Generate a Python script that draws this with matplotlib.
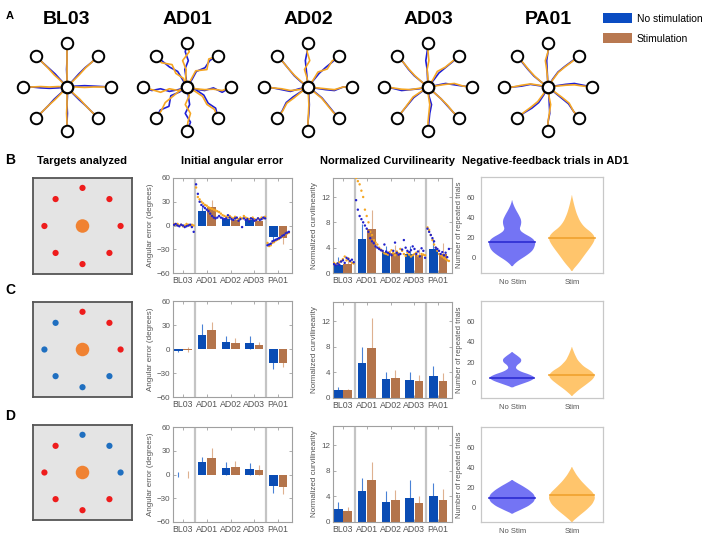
import numpy as np
import matplotlib
matplotlib.use("Agg")
import matplotlib.pyplot as plt
from matplotlib.patches import Patch

plt.rcParams['font.family'] = ['Liberation Sans', 'DejaVu Sans']

# ---------------- data ----------------
subjects = ['BL03', 'AD01', 'AD02', 'AD03', 'PA01']
target_angles = [0, 45, 90, 135, 180, 225, 270, 315]
traj_t = [0.0, 0.2, 0.4, 0.6, 0.8, 1.0]

traj_blue = {
    'BL03': [[0.02, 0.03, 0.02, 0.01], [0.01, 0.02, 0.02, 0.0], [0.0, 0.01, 0.0, 0.0], [-0.01, -0.02, -0.01, 0.0],
             [0.02, 0.03, 0.02, 0.0], [0.0, -0.01, 0.0, 0.0], [0.01, 0.0, 0.01, 0.0], [-0.01, -0.01, 0.0, 0.0]],
    'AD01': [[-0.05, -0.08, -0.02, -0.12], [0.04, 0.1, 0.02, 0.06], [0.02, 0.05, -0.03, 0.04], [-0.05, -0.1, -0.04, -0.02],
             [0.06, 0.1, 0.04, 0.08], [-0.04, -0.12, 0.02, -0.06], [0.03, 0.06, -0.04, 0.08], [0.1, 0.14, 0.08, 0.12]],
    'AD02': [[-0.03, -0.06, -0.08, 0.0], [0.02, 0.04, 0.03, 0.01], [0.02, 0.04, 0.06, 0.02], [0.03, 0.04, 0.02, 0.0],
             [0.04, 0.1, 0.06, 0.02], [-0.04, -0.08, -0.1, -0.03], [0.02, 0.03, 0.02, 0.0], [0.03, 0.05, 0.03, 0.01]],
    'AD03': [[0.04, 0.08, 0.05, 0.02], [0.02, 0.05, 0.03, 0.01], [0.01, 0.02, 0.05, 0.02], [0.02, 0.04, 0.03, 0.0],
             [0.04, 0.06, 0.08, 0.03], [-0.03, -0.06, -0.04, -0.02], [0.02, 0.08, 0.04, 0.02], [0.01, 0.02, 0.01, 0.0]],
    'PA01': [[0.03, 0.06, 0.08, 0.04], [0.05, 0.08, 0.06, 0.03], [0.01, 0.02, 0.03, 0.0], [0.03, 0.05, 0.04, 0.02],
             [-0.03, -0.06, -0.02, 0.0], [0.06, 0.1, 0.08, 0.03], [0.02, 0.03, 0.04, 0.0], [0.02, 0.04, 0.06, 0.02]],
}
traj_orange = {
    'BL03': [[0.0, -0.01, 0.0, 0.0], [0.0, 0.0, 0.01, 0.0], [0.0, 0.0, 0.0, 0.0], [0.0, 0.01, 0.0, 0.0],
             [-0.01, 0.0, -0.01, 0.0], [0.01, 0.01, 0.0, 0.0], [0.0, 0.0, -0.01, 0.0], [0.0, 0.01, 0.0, 0.0]],
    'AD01': [[-0.04, -0.06, -0.05, -0.08], [0.06, 0.12, -0.04, 0.1], [0.03, 0.02, 0.1, -0.05], [-0.08, -0.04, -0.12, 0.02],
             [0.08, 0.04, 0.12, 0.06], [-0.06, -0.08, -0.1, -0.03], [0.05, -0.04, 0.08, 0.02], [0.06, 0.1, 0.04, 0.08]],
    'AD02': [[-0.02, -0.04, -0.06, 0.0], [0.03, 0.08, -0.02, 0.03], [0.02, 0.08, -0.04, 0.02], [0.02, 0.03, 0.02, 0.0],
             [0.06, 0.08, 0.04, 0.02], [-0.03, -0.05, -0.08, -0.02], [0.01, 0.02, 0.01, 0.0], [0.02, 0.04, 0.02, 0.0]],
    'AD03': [[0.03, 0.06, 0.08, 0.02], [0.04, 0.1, 0.04, 0.02], [0.0, 0.02, -0.02, 0.0], [0.02, 0.03, 0.02, 0.0],
             [0.03, 0.06, 0.05, 0.02], [-0.04, -0.08, -0.05, -0.02], [0.01, 0.04, 0.02, 0.0], [0.01, 0.02, 0.02, 0.0]],
    'PA01': [[0.02, 0.04, 0.05, 0.02], [0.04, 0.07, 0.05, 0.02], [0.01, 0.03, 0.06, 0.0], [0.03, 0.04, 0.03, 0.01],
             [-0.04, -0.07, -0.04, 0.0], [0.04, 0.07, 0.05, 0.02], [0.02, 0.06, 0.03, 0.0], [0.03, 0.06, 0.08, 0.02]],
}

# targets analyzed: 'r' red / 'b' blue for angles 0,45,...,315
targets_B = ['r', 'r', 'r', 'r', 'r', 'r', 'r', 'r']
targets_C = ['r', 'r', 'r', 'b', 'b', 'b', 'b', 'b']
targets_D = ['b', 'b', 'b', 'r', 'r', 'r', 'r', 'r']

# angular error (degrees)
ang_B_ns = [1, 18, 8, 7, -15];      ang_B_ns_err = [1, 5, 3, 3, 4]
ang_B_s = [0.5, 23, 7, 6, -16];     ang_B_s_err = [1, 9, 4, 3, 7]
ang_C_ns = [-2, 18, 9, 8, -17];     ang_C_ns_err = [2, 13, 7, 8, 8]
ang_C_s = [-1, 24, 8, 5, -17];      ang_C_s_err = [3, 10, 6, 4, 6]
ang_D_ns = [0, 16, 8, 7, -15];      ang_D_ns_err = [3, 6, 8, 7, 8]
ang_D_s = [0, 21, 10, 6, -16];      ang_D_s_err = [4, 12, 7, 6, 8]

# normalized curvilinearity
cur_B_ns = [1.3, 5.3, 3.3, 3.0, 3.8];  cur_B_ns_err = [1.2, 2.5, 1.0, 1.2, 1.5]
cur_B_s = [1.5, 7.0, 3.2, 2.8, 3.0];   cur_B_s_err = [1.0, 3.0, 1.3, 1.0, 1.8]
cur_C_ns = [1.3, 5.4, 3.0, 2.8, 3.4];  cur_C_ns_err = [0.4, 2.6, 1.1, 1.3, 1.6]
cur_C_s = [1.2, 7.8, 3.2, 2.6, 2.7];   cur_C_s_err = [0.2, 4.7, 1.1, 1.0, 1.2]
cur_D_ns = [2.1, 4.9, 3.2, 3.8, 4.0];  cur_D_ns_err = [1.1, 2.0, 1.7, 2.7, 2.1]
cur_D_s = [1.7, 6.6, 3.4, 3.0, 3.4];   cur_D_s_err = [0.7, 2.7, 1.6, 1.0, 1.8]

# trial-by-trial values (row B), per section: BL03 | AD01-AD03 | PA01
ang_dots_ns = [[1, 2, 0, -1, 1, 0, -2, -1, 0, 1, -2, -8],
               [52, 40, 30, 26, 24, 22, 20, 18, 15, 12, 10, 9, 10, 12, 10, 9, 8, 9, 13, 10,
                8, 7, 9, 10, 6, 8, -2, 9, 7, 8, 5, 9, 8, 6, 7, 9, 7, 8, 10, 9],
               [-25, -24, -23, -20, -19, -18, -17, -16, -15, -13, -12, -10, -9, -8]]
ang_dots_s = [[2, 1, 2, 0, 1, -1, 0, 2, 1, 0, 1, 0],
              [48, 36, 33, 30, 28, 26, 25, 23, 22, 21, 20, 19, 18, 17, 15, 13, 12, 11, 10, 12,
               10, 9, 11, 9, 8, 10, 9, 12, 10, 9, 8, 9, 10, 8, 7, 9, 8, 10, 9, 11],
              [-22, -26, -25, -22, -21, -19, -18, -17, -15, -14, -12, -11, -10, -9]]
cur_dots_ns = [[1.4, 1.2, 1.5, 1.3, 1.8, 2.0, 1.6, 2.4, 2.2, 1.9, 2.1, 1.7],
               [11.5, 10, 9, 8.5, 8, 7.5, 7, 6.5, 5.5, 5, 4.7, 4.2, 4, 3.8, 3.6, 3.5, 4.5, 3.4, 3.2, 3,
                2.8, 3.5, 4.8, 3.2, 2.9, 3, 3.7, 5.2, 4, 3.5, 3.3, 3.6, 4.2, 3.8, 3.0, 3.4, 2.6, 3.9, 3.5, 2.4],
               [7, 6.5, 6, 5.5, 5, 4, 3.8, 3.5, 3.0, 3.3, 2.8, 3.2, 2.5, 3.8]]
cur_dots_s = [[1.6, 1.4, 1.5, 1.7, 1.9, 2.2, 2.6, 2.0, 2.3, 1.8, 1.6, 1.5],
              [15, 14.5, 14, 13, 12, 10, 9, 8, 6.5, 6, 5.2, 4.8, 4.5, 4, 3.7, 3.4, 3.1, 3.0, 2.9, 3.3,
               3.6, 3.2, 2.8, 3.4, 3.1, 3.8, 3.5, 3.0, 2.7, 3.2, 2.9, 2.6, 2.8, 3.0, 3.2, 2.7, 2.5, 3.0, 2.9, 2.8],
              [7.2, 6.8, 6, 5.2, 4.5, 4, 3.5, 3.0, 2.8, 2.6, 2.4, 2.2, 2.0, 1.9]]
section_bounds = [(0.62, 1.45), (1.55, 4.45), (4.55, 5.45)]

# violin outlines: levels (number of repeated trials) and
# relative width (1 = widest), plus medians
viol_B_ns_y = [-8.3, -3, 2, 7, 12, 16, 20, 24, 28, 32, 37, 42, 48, 53, 57]
viol_B_ns_w = [0, 0.25, 0.6, 0.88, 0.98, 1.0, 0.85, 0.5, 0.3, 0.38, 0.4, 0.3, 0.15, 0.05, 0]
viol_B_s_y = [-13, -5, 3, 10, 16, 20, 25, 30, 36, 44, 52, 62]
viol_B_s_w = [0, 0.3, 0.55, 0.78, 0.95, 1.0, 0.85, 0.55, 0.35, 0.2, 0.1, 0]
viol_C_ns_y = [-4.6, -1, 2, 5, 8, 11, 14, 17, 20, 23, 26, 30]
viol_C_ns_w = [0, 0.45, 0.82, 1.0, 0.75, 0.35, 0.15, 0.2, 0.38, 0.4, 0.25, 0]
viol_C_s_y = [-13, -7, -2, 3, 7, 11, 16, 22, 28, 35]
viol_C_s_w = [0, 0.3, 0.6, 0.88, 1.0, 0.85, 0.5, 0.25, 0.12, 0]
viol_D_ns_y = [-6.7, -3, 1, 5, 9, 13, 17, 21, 24, 27]
viol_D_ns_w = [0, 0.35, 0.7, 0.92, 1.0, 0.92, 0.72, 0.45, 0.22, 0]
viol_D_s_y = [-15, -9, -3, 3, 9, 14, 20, 26, 32, 38, 40]
viol_D_s_w = [0, 0.3, 0.62, 0.88, 1.0, 0.92, 0.65, 0.4, 0.2, 0.05, 0]
viol_medians = {'B': (15.5, 19.5), 'C': (5, 7.5), 'D': (9.5, 12)}

# ---------------- styling ----------------
BLUE_BAR = '#0a4cb4'
BROWN_BAR = '#b3744b'
BLUE_ERR = '#4a82d6'
BROWN_ERR = '#deb190'
BLUE_DOT = '#2222cc'
ORANGE_DOT = '#f5a623'
TRAJ_BLUE = '#1f1fd6'
TRAJ_ORANGE = '#f5a623'
GREY_TXT = '#555555'
SPINE = '#a0a0a0'

W, H = 708, 536
fig = plt.figure(figsize=(W / 100, H / 100), dpi=100)


def add_px(l, t, w, h):
    return fig.add_axes([l / W, 1 - (t + h) / H, w / W, h / H])


def ftext(x, y, s, **kw):
    fig.text(x / W, 1 - y / H, s, **kw)


# ---------------- Panel A ----------------
star_cx = [67, 187, 308, 428, 548]
star_cy = 87
for subj, cx in zip(subjects, star_cx):
    ax = add_px(cx - 55, star_cy - 55, 110, 110)
    ax.set_xlim(-1.25, 1.25)
    ax.set_ylim(-1.25, 1.25)
    ax.set_aspect('equal')
    ax.axis('off')
    for k, ang in enumerate(target_angles):
        th = np.deg2rad(ang)
        d = np.array([np.cos(th), np.sin(th)])
        n = np.array([-np.sin(th), np.cos(th)])
        for offs, col, z in [(traj_blue[subj][k], TRAJ_BLUE, 2), (traj_orange[subj][k], TRAJ_ORANGE, 3)]:
            o = [0.0] + list(offs) + [0.0]
            pts = np.array([t * d + oo * n for t, oo in zip(traj_t, o)])
            ax.plot(pts[:, 0], pts[:, 1], color=col, lw=1.2, zorder=z, solid_joinstyle='round')
        ax.plot(d[0], d[1], 'o', ms=8.3, mfc='white', mec='black', mew=1.4, zorder=5)
    ax.plot(0, 0, 'o', ms=8.3, mfc='white', mec='black', mew=1.6, zorder=5)
    ftext(cx, 20, subj, ha='center', va='center', fontsize=14, fontweight='bold')

ftext(10, 16, 'A', ha='center', va='center', fontsize=8, fontweight='bold')
fig.legend(handles=[Patch(facecolor='#0a4cc2', edgecolor='none', label='No stimulation'),
                    Patch(facecolor='#b87850', edgecolor='none', label='Stimulation')],
           loc='upper left', bbox_to_anchor=(594 / W, 1 - 4 / H), frameon=False,
           fontsize=7.5, handlelength=2.7, handleheight=1.1, handletextpad=0.5, labelspacing=0.9)

# ---------------- Rows B, C, D ----------------
ftext(82, 161, 'Targets analyzed', ha='center', va='center', fontsize=8, fontweight='bold')
ftext(232, 161, 'Initial angular error', ha='center', va='center', fontsize=8, fontweight='bold')
ftext(388, 161, 'Normalized Curvilinearity', ha='center', va='center', fontsize=8, fontweight='bold')
ftext(545, 161, 'Negative-feedback trials in AD1', ha='center', va='center', fontsize=8, fontweight='bold')
ftext(10, 160, 'B', ha='center', va='center', fontsize=10, fontweight='bold')
ftext(10, 290, 'C', ha='center', va='center', fontsize=10, fontweight='bold')
ftext(10, 416, 'D', ha='center', va='center', fontsize=10, fontweight='bold')


def targets_panel(rect, colors):
    ax = add_px(*rect)
    ax.set_facecolor('#e4e4e4')
    for s in ax.spines.values():
        s.set_color('#555555')
        s.set_linewidth(1.3)
    ax.set_xticks([])
    ax.set_yticks([])
    ax.set_xlim(-1.3, 1.3)
    ax.set_ylim(-1.26, 1.26)
    xs = [np.cos(np.deg2rad(a)) for a in target_angles]
    ys = [np.sin(np.deg2rad(a)) for a in target_angles]
    cols = ['#ee1c1c' if c == 'r' else '#1f6fc0' for c in colors]
    ax.scatter(xs, ys, s=20, c=cols, edgecolors='none', zorder=3)
    ax.scatter([0], [0], s=95, c='#f08232', edgecolors='none', zorder=3)


def style_axes(ax):
    for s in ax.spines.values():
        s.set_color(SPINE)
        s.set_linewidth(0.8)
    ax.tick_params(direction='in', length=2, width=0.6, colors=SPINE, labelcolor=GREY_TXT,
                   labelsize=5.8, pad=2, top=True, right=True)


xg = np.arange(1, len(subjects) + 1)
OFF, BW = 0.2, 0.36


def bar_panel(rect, ns, ns_err, s, s_err, ylim, yticks, ylabel, dots_ns=None, dots_s=None):
    ax = add_px(*rect)
    ax.errorbar(xg - OFF, ns, yerr=ns_err, fmt='none', ecolor=BLUE_ERR, elinewidth=0.8, capsize=0, zorder=1)
    ax.errorbar(xg + OFF, s, yerr=s_err, fmt='none', ecolor=BROWN_ERR, elinewidth=0.8, capsize=0, zorder=1)
    ax.bar(xg - OFF, ns, width=BW, color=BLUE_BAR, zorder=2)
    ax.bar(xg + OFF, s, width=BW, color=BROWN_BAR, zorder=2)
    if dots_ns is not None:
        for (a, b), vn, vs in zip(section_bounds, dots_ns, dots_s):
            xn = np.linspace(a, b, len(vn))
            xs_ = np.linspace(a, b, len(vs))
            ax.scatter(xs_, vs, s=3, c=ORANGE_DOT, edgecolors='none', zorder=3)
            ax.scatter(xn, vn, s=3, c=BLUE_DOT, edgecolors='none', zorder=4)
    for xv in (1.5, 4.5):
        ax.axvline(xv, color='#c4c4c4', lw=1.6, zorder=0)
    ax.set_xlim(0.58, 5.58)
    ax.set_ylim(*ylim)
    ax.set_yticks(yticks)
    ax.set_xticks(xg)
    ax.set_xticklabels(subjects)
    ax.set_ylabel(ylabel, fontsize=5.8, color=GREY_TXT, labelpad=2)
    style_axes(ax)
    ax.tick_params(axis='x', labelsize=6.3)
    return ax


VIOL_HALF = 0.39  # half of the widest violin, in x units


def violin_panel(rect, prof_ns, prof_s, medians):
    ax = add_px(*rect)
    for pos, (ys, ws), med, face, med_col in [
            (1, prof_ns, medians[0], '#7474f4', '#2b2bd2'),
            (2, prof_s, medians[1], '#ffc56c', '#f0a12e')]:
        yy = np.array(ys, dtype=float)
        # fine resampling of the read outline, lightly rounded for display
        yf = np.linspace(yy[0], yy[-1], 400)
        wf = np.interp(yf, yy, np.array(ws, dtype=float))
        k = 15
        wf = np.convolve(np.pad(wf, k, mode='edge'), np.ones(2 * k + 1) / (2 * k + 1), mode='same')[k:-k]
        wf[0] = wf[-1] = 0
        hw = wf * VIOL_HALF
        ax.fill_betweenx(yf, pos - hw, pos + hw, facecolor=face, edgecolor='none', zorder=2)
        half = float(np.interp(med, yf, hw))
        ax.plot([pos - half, pos + half], [med, med], color=med_col, lw=1.2, zorder=3)
    ax.set_xlim(0.48, 2.52)
    ax.set_ylim(-15, 80)
    ax.set_yticks([0, 20, 40, 60])
    ax.set_xticks([1, 2])
    ax.set_xticklabels(['No Stim', 'Stim'])
    ax.set_ylabel('Number of repeated trials', fontsize=5.5, color=GREY_TXT, labelpad=3)
    for s in ax.spines.values():
        s.set_color('#c8c8c8')
        s.set_linewidth(0.9)
    ax.tick_params(length=0, labelcolor=GREY_TXT, labelsize=5.5, pad=4)


rows = [
    dict(tgt=(33, 178, 99, 96), tc=targets_B,
         ang=(173, 178, 119, 95), a=(ang_B_ns, ang_B_ns_err, ang_B_s, ang_B_s_err),
         cur=(333, 178, 119, 95), c=(cur_B_ns, cur_B_ns_err, cur_B_s, cur_B_s_err),
         vio=(481, 177, 122, 96), v=((viol_B_ns_y, viol_B_ns_w), (viol_B_s_y, viol_B_s_w)),
         med=viol_medians['B'], dots=True),
    dict(tgt=(33, 302, 99, 95), tc=targets_C,
         ang=(173, 301, 119, 96), a=(ang_C_ns, ang_C_ns_err, ang_C_s, ang_C_s_err),
         cur=(333, 302, 119, 96), c=(cur_C_ns, cur_C_ns_err, cur_C_s, cur_C_s_err),
         vio=(481, 301, 122, 97), v=((viol_C_ns_y, viol_C_ns_w), (viol_C_s_y, viol_C_s_w)),
         med=viol_medians['C'], dots=False),
    dict(tgt=(33, 425, 99, 95), tc=targets_D,
         ang=(173, 427, 119, 95), a=(ang_D_ns, ang_D_ns_err, ang_D_s, ang_D_s_err),
         cur=(333, 426, 119, 96), c=(cur_D_ns, cur_D_ns_err, cur_D_s, cur_D_s_err),
         vio=(481, 427, 122, 95), v=((viol_D_ns_y, viol_D_ns_w), (viol_D_s_y, viol_D_s_w)),
         med=viol_medians['D'], dots=False),
]

for r in rows:
    targets_panel(r['tgt'], r['tc'])
    if r['dots']:
        bar_panel(r['ang'], *r['a'], (-60, 60), [-60, -30, 0, 30, 60], 'Angular error (degrees)',
                  ang_dots_ns, ang_dots_s)
        bar_panel(r['cur'], *r['c'], (0, 15), [0, 4, 8, 12], 'Normalized curvilinearity',
                  cur_dots_ns, cur_dots_s)
    else:
        bar_panel(r['ang'], *r['a'], (-60, 60), [-60, -30, 0, 30, 60], 'Angular error (degrees)')
        bar_panel(r['cur'], *r['c'], (0, 15), [0, 4, 8, 12], 'Normalized curvilinearity')
    violin_panel(r['vio'], *r['v'], r['med'])

fig.savefig('out.png', dpi=100)
